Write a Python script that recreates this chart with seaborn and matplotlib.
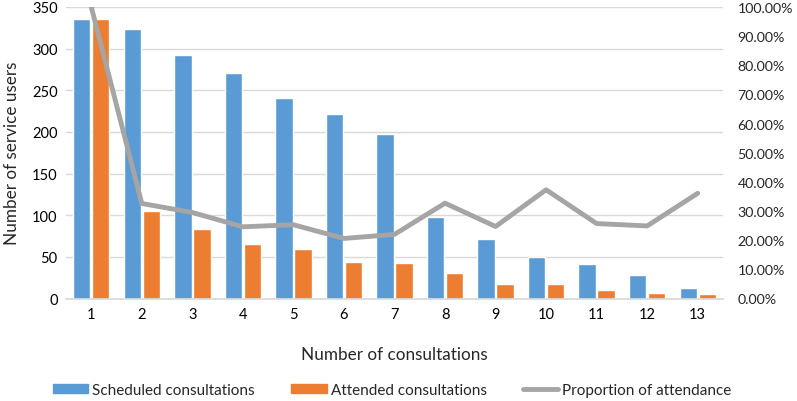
import matplotlib
matplotlib.use("Agg")
import matplotlib.pyplot as plt
import seaborn as sns
import pandas as pd
from matplotlib.ticker import FuncFormatter
from matplotlib.patches import Patch
from matplotlib.lines import Line2D

categories = ["1", "2", "3", "4", "5", "6", "7", "8", "9", "10", "11", "12", "13"]
scheduled = [336, 323, 292, 271, 241, 221, 198, 98, 71, 50, 42, 28, 13]
attended = [336, 105, 84, 66, 60, 44, 43, 31, 17, 18, 10, 7, 5]
proportion = [100.0, 32.6, 29.5, 24.6, 25.3, 20.6, 22.0, 32.7, 24.7, 37.3, 25.7, 24.9, 36.1]
series_names = ["Scheduled consultations", "Attended consultations", "Proportion of attendance"]

sns.set_theme(style="white")
plt.rcParams['font.family'] = ['Lato', 'DejaVu Sans']

blue = "#5B9BD5"
orange = "#ED7D31"
gray = "#A5A5A5"

df = pd.DataFrame({
    "cat": categories * 2,
    "value": scheduled + attended,
    "series": [series_names[0]] * len(categories) + [series_names[1]] * len(categories),
})

W, H = 797, 402
fig = plt.figure(figsize=(W / 100, H / 100), dpi=100)
ax = fig.add_axes([66 / W, 1 - 299.5 / H, (723 - 66) / W, (299.5 - 8) / H])

sns.barplot(data=df, x="cat", y="value", hue="series", order=categories,
            hue_order=series_names[:2], palette=[blue, orange],
            width=0.752, gap=0.088, ax=ax, legend=False, saturation=1)

ax.set_ylim(0, 350)
ax.set_yticks(range(0, 351, 50))
ax.set_xlim(-0.5, len(categories) - 0.5)
ax.yaxis.grid(True, color="#D9D9D9", linewidth=1)
ax.set_axisbelow(True)
for s in ["top", "right", "left"]:
    ax.spines[s].set_visible(False)
ax.spines["bottom"].set_color("#D9D9D9")
ax.tick_params(axis="both", length=0, labelsize=10.5, colors="#000000", pad=6)
ax.set_xlabel("Number of consultations", fontsize=12.3, labelpad=18)
ax.set_ylabel("Number of service users", fontsize=12.3, labelpad=9)

ax2 = ax.twinx()
sns.lineplot(x=list(range(len(categories))), y=proportion, ax=ax2, color=gray, linewidth=3.5)
ax2.set_ylim(0, 100)
ax2.set_yticks(range(0, 101, 10))
ax2.yaxis.set_major_formatter(FuncFormatter(lambda v, p: f"{v:.2f}%"))
for s in ["top", "right", "left", "bottom"]:
    ax2.spines[s].set_visible(False)
ax2.tick_params(axis="y", length=0, labelsize=10.2, pad=10.5)
ax2.set_ylabel("")
ax2.set_xlim(-0.5, len(categories) - 0.5)

handles = [Patch(color=blue), Patch(color=orange), Line2D([], [], color=gray, linewidth=3.5)]
fig.legend(handles, series_names, loc="center left", bbox_to_anchor=(53 / W, 1 - 391 / H),
           ncol=3, frameon=False, fontsize=11, columnspacing=2.4, handlelength=2.3,
           handleheight=0.45, handletextpad=0.26, borderpad=0, borderaxespad=0)

fig.savefig("out.png", dpi=100)
